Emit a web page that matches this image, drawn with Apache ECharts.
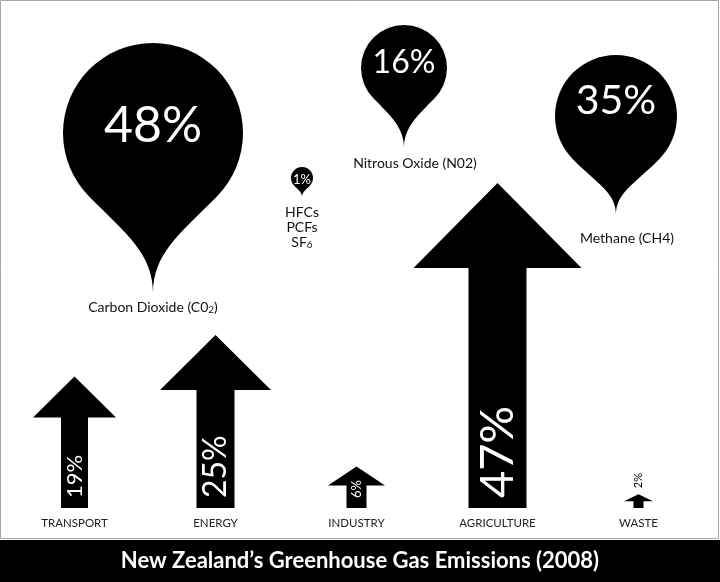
<!DOCTYPE html>
<html>
<head>
<meta charset="utf-8">
<script src="https://cdn.jsdelivr.net/npm/echarts@6/dist/echarts.min.js"></script>
<style>
  html, body { margin: 0; padding: 0; background: #fff; }
  #chart { width: 720px; height: 582px; }
</style>
</head>
<body>
<div id="chart"></div>
<script>
const sectors = ["TRANSPORT", "ENERGY", "INDUSTRY", "AGRICULTURE", "WASTE"];
const sectorShares = [19, 25, 6, 47, 2];
const gases = ["Carbon Dioxide (C0{sub|2})", "HFCs\nPCFs\nSF{sub|6}", "Nitrous Oxide (N02)", "Methane (CH4)"];
const gasShares = [48, 1, 16, 35];
const title = "New Zealand’s Greenhouse Gas Emissions (2008)";

const FONT = "Lato, 'Open Sans', sans-serif";

// arrow look, px
const arrowLook = {
    headHalf: [41.5, 55.5, 28.5, 84, 14.5],
    headH: [41, 55, 19, 85, 7],
    shaftHalf: [13.5, 19, 10, 29, 5],
    font: [22, 32, 13, 47, 11],
};
// pin look, px: centre of the round part, radius, tip distance, text tweaks
const pinLook = {
    cx: [153, 302, 404, 616],
    cy: [133, 178, 68, 116],
    r: [90, 11, 43, 61],
    tip: [160, 19, 80, 99],
    font: [50, 13, 32, 41],
    textDy: [-7, 2, -5, -15],
    labelDx: [0, 0, 11, 11],
    labelDy: [14, 8, 15, 23],
};

const pinPath = (cx, cy, r, d) => {
    const a = 45 * Math.PI / 180;
    const px = r * Math.cos(a), py = r * Math.sin(a);
    const tx = -Math.sin(a), ty = Math.cos(a);
    const k = r * 0.6;
    const tipY = cy + d;
    const c2y = tipY - (d - py) * 0.4;
    const r1 = [cx + px + tx * k, cy + py + ty * k];
    const l1 = [cx - px - tx * k, cy + py + ty * k];
    return `M ${cx} ${tipY} ` +
        `C ${cx} ${c2y} ${l1[0]} ${l1[1]} ${cx - px} ${cy + py} ` +
        `A ${r} ${r} 0 1 1 ${cx + px} ${cy + py} ` +
        `C ${r1[0]} ${r1[1]} ${cx} ${c2y} ${cx} ${tipY} Z`;
};

const chart = echarts.init(document.getElementById("chart"));

chart.setOption({
    animation: false,
    backgroundColor: "#fff",
    grid: { left: 4, right: 11, top: 93, bottom: 74 },
    xAxis: {
        type: "category",
        data: sectors,
        axisLine: { show: false },
        axisTick: { show: false },
        axisLabel: { color: "#222", fontSize: 11.5, fontFamily: FONT, margin: 9 },
    },
    yAxis: { type: "value", min: 0, max: 60, show: false },
    graphic: [
        {
            type: "rect",
            shape: { x: 0.5, y: 0.5, width: 718, height: 538 },
            style: { fill: "none", stroke: "#a6a6a6", lineWidth: 1 },
        },
        {
            type: "rect",
            shape: { x: 0, y: 540, width: 720, height: 42 },
            style: { fill: "#000" },
        },
        {
            type: "text",
            x: 360,
            y: 561,
            style: {
                text: title,
                fill: "#fff",
                font: `bold 22px ${FONT}`,
                align: "center",
                verticalAlign: "middle",
            },
        },
    ],
    series: [
        {
            type: "custom",
            name: "Sectors",
            data: sectorShares.map((v, i) => [i, v]),
            renderItem: (params, api) => {
                const i = params.dataIndex;
                const tip = api.coord([api.value(0), api.value(1)]);
                const base = api.coord([api.value(0), 0]);
                const x = tip[0];
                const hh = arrowLook.headHalf[i];
                const sh = arrowLook.shaftHalf[i];
                const headBase = tip[1] + arrowLook.headH[i];
                const small = api.value(1) < 5;
                return {
                    type: "group",
                    children: [
                        {
                            type: "polygon",
                            shape: {
                                points: [
                                    [x, tip[1]],
                                    [x + hh, headBase],
                                    [x + sh, headBase],
                                    [x + sh, base[1]],
                                    [x - sh, base[1]],
                                    [x - sh, headBase],
                                    [x - hh, headBase],
                                ],
                            },
                            style: { fill: "#000" },
                        },
                        {
                            type: "text",
                            x: x,
                            y: small ? tip[1] - 6 : base[1] - 10,
                            rotation: Math.PI / 2,
                            style: {
                                text: api.value(1) + "%",
                                fill: small ? "#000" : "#fff",
                                font: `${arrowLook.font[i]}px ${FONT}`,
                                align: "left",
                                verticalAlign: "middle",
                            },
                        },
                    ],
                };
            },
        },
        {
            type: "custom",
            name: "Gases",
            coordinateSystem: "none",
            data: gasShares,
            renderItem: (params, api) => {
                const i = params.dataIndex;
                const cx = pinLook.cx[i], cy = pinLook.cy[i];
                const r = pinLook.r[i], d = pinLook.tip[i];
                return {
                    type: "group",
                    children: [
                        {
                            type: "path",
                            shape: { pathData: pinPath(cx, cy, r, d) },
                            style: { fill: "#000" },
                        },
                        {
                            type: "text",
                            x: cx,
                            y: cy + pinLook.textDy[i],
                            style: {
                                text: api.value(0) + "%",
                                fill: "#fff",
                                font: `${pinLook.font[i]}px ${FONT}`,
                                align: "center",
                                verticalAlign: "middle",
                            },
                        },
                        {
                            type: "text",
                            x: cx + pinLook.labelDx[i],
                            y: cy + d + pinLook.labelDy[i],
                            style: {
                                text: gases[i],
                                fill: "#111",
                                fontSize: 14,
                                fontFamily: FONT,
                                lineHeight: 15,
                                align: "center",
                                verticalAlign: i === 1 ? "top" : "middle",
                                rich: {
                                    sub: { fontSize: 10, fontFamily: FONT, verticalAlign: "bottom", padding: [6, 0, 0, 0], lineHeight: 15 },
                                },
                            },
                        },
                    ],
                };
            },
        },
    ],
});
</script>
</body>
</html>
